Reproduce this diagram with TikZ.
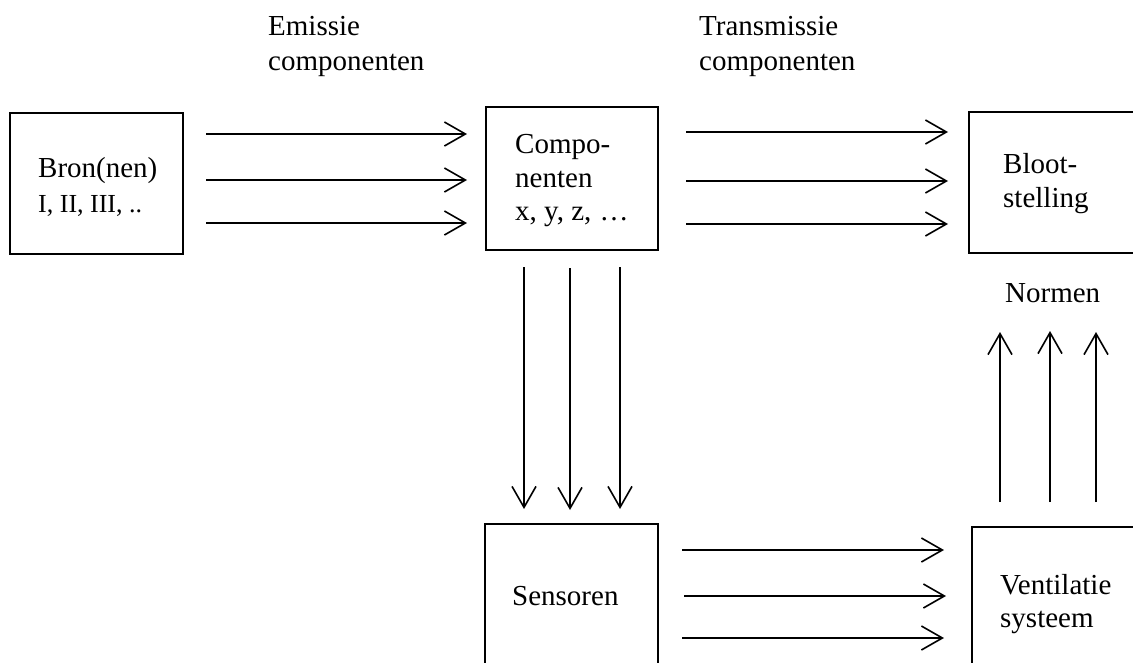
\documentclass[tikz,border=0pt]{standalone}
\usepackage{fontspec}
\setmainfont{Liberation Serif}
\usetikzlibrary{arrows.meta}
\begin{document}
\begin{tikzpicture}[x=1pt,y=-1pt,
  box/.style={draw=black,line width=1.8pt,inner sep=0pt,fill=none},
  lbl/.style={anchor=base west,inner sep=0pt,font=\fontsize{29}{34}\selectfont},
  lblsmall/.style={anchor=base west,inner sep=0pt,font=\fontsize{26}{31}\selectfont},
  flow/.style={line width=1.6pt,-{Straight Barb[length=21pt,width=24pt,line width=1.6pt]}}]
\useasboundingbox (0,0) rectangle (1133,662);
\fill[white] (0,0) rectangle (1133,662);
% boxes
\node[box,minimum width=173pt,minimum height=141pt] (bron) at (96.5,183.5) {};
\node[box,minimum width=172pt,minimum height=143pt] (comp) at (572,178.5) {};
\node[box,minimum width=172pt,minimum height=141pt] (bloot) at (1055,182.5) {};
\node[box,minimum width=173pt,minimum height=142pt] (sens) at (571.5,595) {};
\node[box,minimum width=172pt,minimum height=142pt] (vent) at (1058,598) {};
% texts
\node[lbl] (em1) at (268,35) {Emissie};
\node[lbl] (em2) at (268,70) {componenten};
\node[lbl] (tr1) at (699,35) {Transmissie};
\node[lbl] (tr2) at (699,70) {componenten};
\node[lbl] (bron1) at (38,177) {Bron(nen)};
\node[lblsmall] (bron2) at (38,212) {I, II, III, ..};
\node[lbl] (comp1) at (515,153) {Compo-};
\node[lbl] (comp2) at (515,187) {nenten};
\node[lbl] (comp3) at (515,220) {x, y, z, \kern1pt…};
\node[lbl] (bl1) at (1003,173) {Bloot-};
\node[lbl] (bl2) at (1003,207) {stelling};
\node[lbl] (norm) at (1005,302) {Normen};
\node[lbl] (sens1) at (512,605) {Sensoren};
\node[lbl] (vent1) at (1000,594) {Ventilatie};
\node[lbl] (vent2) at (1000,627) {systeem};
% arrow end points
\coordinate (a1s) at (206,134); \coordinate (a1e) at (467,134);
\coordinate (a2s) at (206,180); \coordinate (a2e) at (467,180);
\coordinate (a3s) at (206,223); \coordinate (a3e) at (467,223);
\coordinate (b1s) at (686,132); \coordinate (b1e) at (948,132);
\coordinate (b2s) at (686,181); \coordinate (b2e) at (948,181);
\coordinate (b3s) at (686,224); \coordinate (b3e) at (948,224);
\coordinate (c1s) at (524,267); \coordinate (c1e) at (524,509);
\coordinate (c2s) at (570,268); \coordinate (c2e) at (570,510);
\coordinate (c3s) at (620,267); \coordinate (c3e) at (620,509);
\coordinate (d1s) at (1000,502); \coordinate (d1e) at (1000,332);
\coordinate (d2s) at (1050,502); \coordinate (d2e) at (1050,331);
\coordinate (d3s) at (1096,502); \coordinate (d3e) at (1096,332);
\coordinate (e1s) at (682,550); \coordinate (e1e) at (944,550);
\coordinate (e2s) at (684,596); \coordinate (e2e) at (946,596);
\coordinate (e3s) at (682,638); \coordinate (e3e) at (944,638);
% arrows
\foreach \g in {a,b,c,d,e}{
  \foreach \i in {1,2,3}{
    \draw[flow] (\g\i s) -- (\g\i e);
  }
}
\end{tikzpicture}
\end{document}
